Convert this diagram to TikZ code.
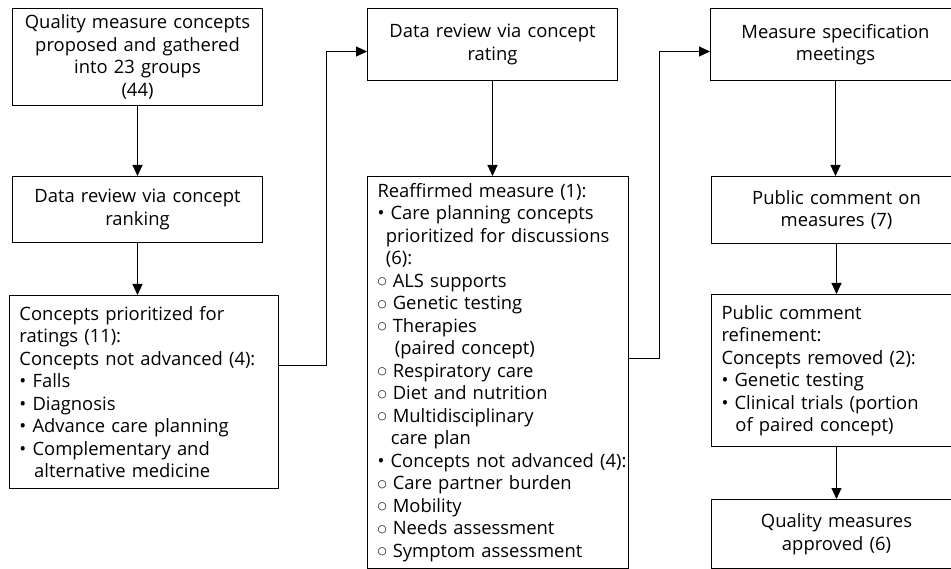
\documentclass[tikz,border=0pt]{standalone}
\usepackage{fontspec}
\setmainfont{Open Sans}
\newfontfamily\symfont{DejaVu Sans}
\usetikzlibrary{arrows.meta}

\newcommand{\wb}{\raisebox{2.6pt}{\symfont\fontsize{10.5}{10}\selectfont ○}}
\newcommand{\hang}[1]{\hspace*{#1}}

\begin{document}
\begin{tikzpicture}[x=1pt,y=1pt,font=\fontsize{18.4}{22.5}\selectfont]

                \tikzset{box/.style = {shape=rectangle,draw,line width=1pt,anchor=north west,inner xsep=8pt,inner ysep=2pt}}
                \tikzset{edge/.style = {->,> = {Triangle[length=11pt,width=10pt]},line width=1pt}}
                \useasboundingbox (0,0) rectangle (951,-569);

                % first column
                \node[box,text width=234pt,minimum height=97pt,align=center] (gather) at (12,-8) {Quality measure concepts\\ proposed and gathered\\ into 23 groups\\ (44)};
                \node[box,text width=234pt,minimum height=66pt,align=center] (ranking) at (12,-176) {Data review via concept\\ ranking};
                \node[box,inner xsep=10pt,text width=249pt,minimum height=193pt,align=left] (prior) at (9,-295) {Concepts prioritized for\\ ratings (11):\\ Concepts not advanced (4):\\ \textbullet{} Falls\\ \textbullet{} Diagnosis\\ \textbullet{} Advance care planning\\ \textbullet{} Complementary and\\ \hang{0.8em}alternative medicine};

                % second column
                \node[box,text width=234pt,minimum height=72pt,align=center] (rating) at (367,-8) {Data review via concept\\ rating};
                \node[box,inner xsep=10pt,text width=241pt,minimum height=392pt,align=left] (reaff) at (367,-176) {Reaffirmed measure (1):\\ \textbullet{} Care planning concepts\\ \hang{0.46em}prioritized for discussions\\ \hang{0.46em}(6):\\ \wb{} ALS supports\\ \wb{} Genetic testing\\ \wb{} Therapies\\ \hang{0.95em}(paired concept)\\ \wb{} Respiratory care\\ \wb{} Diet and nutrition\\ \wb{} Multidisciplinary\\ \hang{0.73em}care plan\\ \mbox{\textbullet{} Concepts not advanced (4):}\\ \wb{} Care partner burden\\ \wb{} Mobility\\ \wb{} Needs assessment\\ \wb{} Symptom assessment};

                % third column
                \node[box,text width=234pt,minimum height=72pt,align=center] (spec) at (710,-8) {Measure specification\\ meetings};
                \node[box,text width=234pt,minimum height=67pt,align=center] (pubcom) at (711,-176) {Public comment on\\ measures (7)};
                \node[box,inner xsep=10pt,text width=230pt,minimum height=152pt,align=left] (refine) at (711,-294) {Public comment\\ refinement:\\ Concepts removed (2):\\ \textbullet{} Genetic testing\\ \textbullet{} Clinical trials (portion\\ \hang{0.76em}of paired concept)};
                \node[box,text width=234pt,minimum height=69pt,align=center] (approved) at (711,-499) {Quality measures\\ approved (6)};

                \draw[edge] (gather) to (ranking);
                \draw[edge] (ranking) to (prior.north -| ranking.south);
                \draw[edge] ([yshift=26pt]prior.east) -- ++(47,0) |- ([yshift=-7pt]rating.west);
                \draw[edge] (rating.south) to (reaff.north -| rating.south);
                \draw[edge] ([yshift=14pt]reaff.east) -- ++(30,0) |- ([yshift=-7pt]spec.west);
                \draw[edge] (spec) to (pubcom.north -| spec.south);
                \draw[edge] (pubcom) to (refine.north -| pubcom.south);
                \draw[edge] (refine) to (approved.north -| refine.south);

            \end{tikzpicture}
\end{document}
